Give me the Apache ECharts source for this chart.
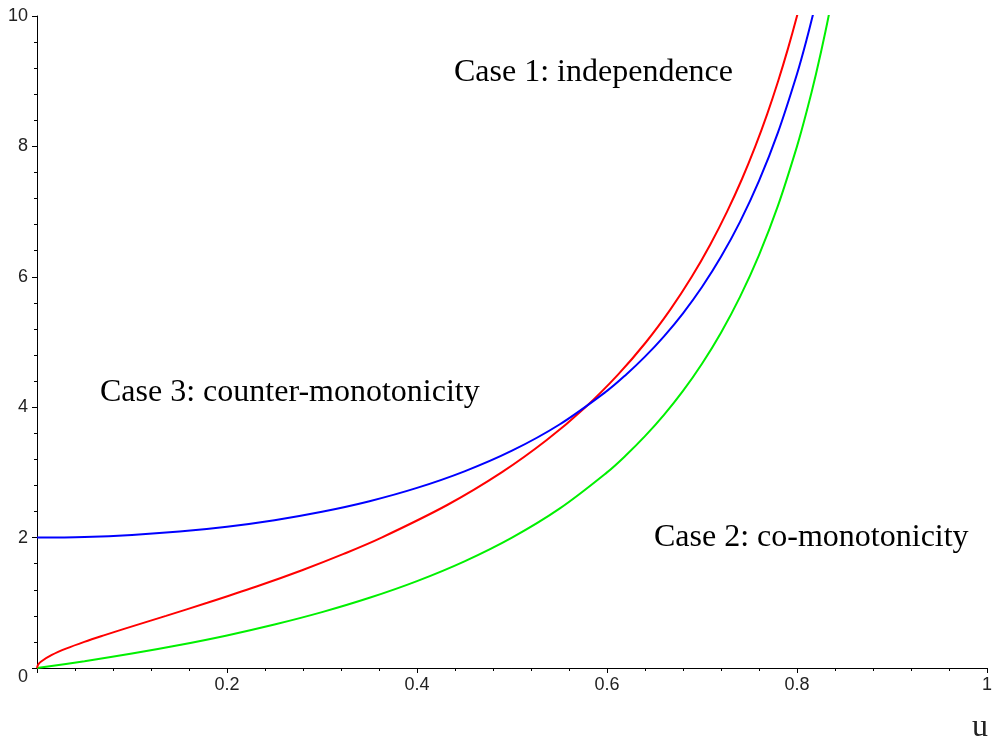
<!DOCTYPE html>
<html>
<head>
<meta charset="utf-8">
<script src="https://cdn.jsdelivr.net/npm/echarts@6/dist/echarts.min.js"></script>
<style>
  html, body { margin: 0; padding: 0; background: #fff; }
  #chart { width: 995px; height: 742px; }
</style>
</head>
<body>
<div id="chart"></div>
<script>
// Quantile of X+Y (u on the horizontal axis) for the three dependence cases.
const redU = [0, 0.00117, 0.0044, 0.0156, 0.0312, 0.0498, 0.0703, 0.0917, 0.1358, 0.1793,
              0.2311, 0.2790, 0.3228, 0.3627, 0.4318, 0.4891, 0.5369, 0.5773, 0.6116, 0.6412,
              0.6668, 0.6892, 0.7089, 0.7264, 0.7421, 0.7561, 0.7687, 0.7801, 0.7905, 0.8000, 0.8087];
const redV = [0, 0.05, 0.1, 0.2, 0.3, 0.4, 0.5, 0.6, 0.8, 1.0,
              1.25, 1.5, 1.75, 2.0, 2.5, 3.0, 3.5, 4.0, 4.5, 5.0,
              5.5, 6.0, 6.5, 7.0, 7.5, 8.0, 8.5, 9.0, 9.5, 10.0, 10.5];

const blueU = [0, 0.05, 0.1, 0.15, 0.2, 0.25, 0.3, 0.35, 0.4, 0.45, 0.5, 0.55, 0.6,
               0.62, 0.64, 0.66, 0.68, 0.7, 0.72, 0.74, 0.76, 0.78, 0.8, 0.81, 0.82];
const blueV = [2, 2.010, 2.040, 2.092, 2.167, 2.267, 2.396, 2.558, 2.762, 3.016, 3.333, 3.735, 4.25,
               4.498, 4.775, 5.087, 5.440, 5.843, 6.306, 6.842, 7.470, 8.215, 9.111, 9.631, 10.21];

const greenU = [0, 0.05, 0.1, 0.15, 0.2, 0.25, 0.3, 0.35, 0.4, 0.45, 0.5, 0.55, 0.6,
                0.62, 0.64, 0.66, 0.68, 0.7, 0.72, 0.74, 0.76, 0.78, 0.8, 0.81, 0.82, 0.83, 0.84];
const greenV = [0, 0.105, 0.222, 0.353, 0.5, 0.667, 0.857, 1.077, 1.333, 1.636, 2, 2.444, 3,
                3.263, 3.556, 3.882, 4.25, 4.667, 5.143, 5.692, 6.333, 7.091, 8, 8.526, 9.111, 9.765, 10.5];

const xTicks = { min: 0, max: 1, step: 0.2 };
const yTicks = { min: 0, max: 10, step: 2 };

const caseLabels = ['Case 1: independence', 'Case 3: counter-monotonicity', 'Case 2: co-monotonicity'];
const axisTitle = 'u';

const zip = (a, b) => a.map((v, i) => [v, b[i]]);

const chart = echarts.init(document.getElementById('chart'), null, { renderer: 'canvas' });

const labelFont = { fontFamily: 'Liberation Sans', fontSize: 18, color: '#222' };
const serif = '32px "Liberation Serif"';

function curve(data, color) {
  return {
    type: 'line',
    data: data,
    showSymbol: false,
    smooth: 0.35,
    clip: true,
    lineStyle: { color: color, width: 2 },
    itemStyle: { color: color },
    silent: true
  };
}

chart.setOption({
  animation: false,
  backgroundColor: '#ffffff',
  grid: { left: 37, right: 7, top: 16, bottom: 74, containLabel: false },
  xAxis: {
    type: 'value',
    min: xTicks.min, max: xTicks.max, interval: xTicks.step,
    axisLine: { onZero: false, lineStyle: { color: '#000', width: 1 } },
    axisTick: { length: 5, lineStyle: { color: '#000' } },
    minorTick: { show: true, splitNumber: 5, length: 3, lineStyle: { color: '#000' } },
    splitLine: { show: false },
    axisLabel: Object.assign({ margin: 8, showMinLabel: false,
      formatter: v => (Math.round(v * 10) / 10).toString() }, labelFont)
  },
  yAxis: {
    type: 'value',
    min: yTicks.min, max: yTicks.max, interval: yTicks.step,
    axisLine: { onZero: false, lineStyle: { color: '#000', width: 1 } },
    axisTick: { length: 5, lineStyle: { color: '#000' } },
    minorTick: { show: true, splitNumber: 5, length: 3, lineStyle: { color: '#000' } },
    splitLine: { show: false },
    axisLabel: Object.assign({ margin: 9,
      formatter: v => v === 0 ? '{z|0}' : String(v),
      rich: { z: { fontFamily: 'Liberation Sans', fontSize: 18, color: '#222', padding: [18, 0, 0, 0] } }
    }, labelFont)
  },
  series: [
    curve(zip(greenU, greenV), '#00f000'),
    curve(zip(redU, redV), '#ff0000'),
    curve(zip(blueU, blueV), '#0000ff')
  ],
  graphic: [
    { type: 'text', x: 454, y: 73, style: { text: caseLabels[0], font: serif, fill: '#000', verticalAlign: 'middle' } },
    { type: 'text', x: 100, y: 393, style: { text: caseLabels[1], font: serif, fill: '#000', verticalAlign: 'middle' } },
    { type: 'text', x: 654, y: 538, style: { text: caseLabels[2], font: serif, fill: '#000', verticalAlign: 'middle' } },
    { type: 'text', x: 972, y: 728, style: { text: axisTitle, font: serif, fill: '#222', verticalAlign: 'middle' } }
  ]
});
</script>
</body>
</html>
